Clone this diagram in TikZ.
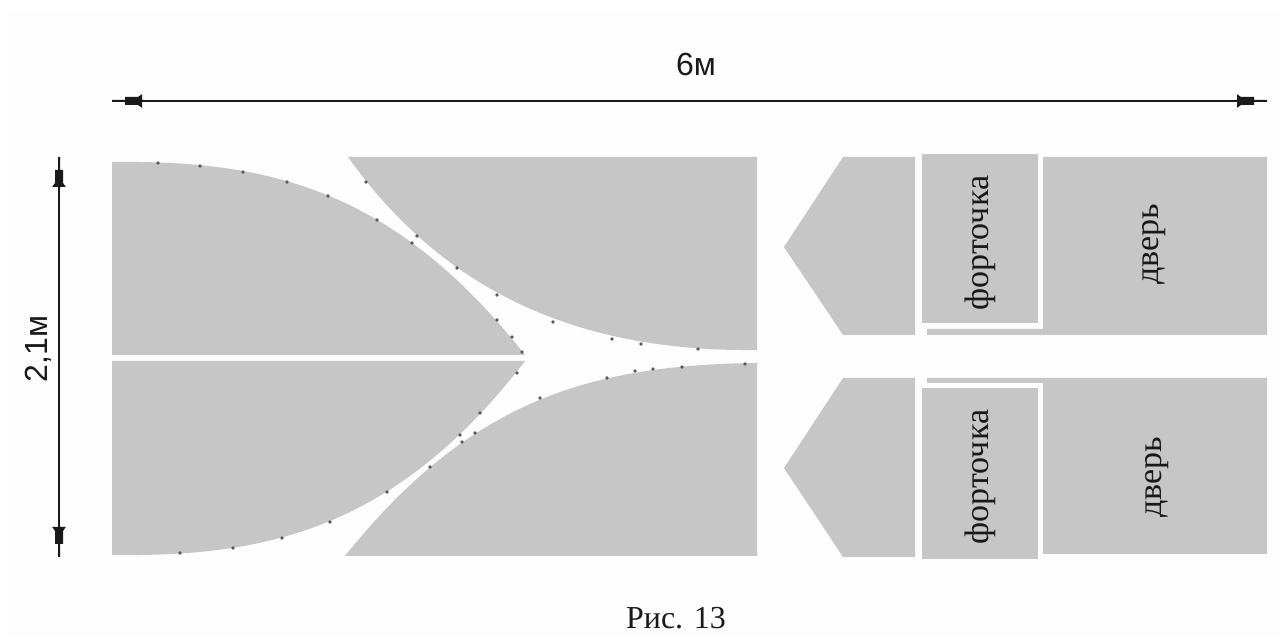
\documentclass[tikz,border=0pt]{standalone}
\usepackage{fontspec}
\setmainfont{Liberation Serif}
\newfontfamily\dimfont{Liberation Sans}
\definecolor{panel}{HTML}{C6C6C6}
\definecolor{paper}{HTML}{FDFDFD}
\definecolor{ink}{HTML}{1A1A1A}
\definecolor{speck}{HTML}{5A5A5A}
\tikzset{
  panelshape/.style={fill=panel,draw=none},
  dimline/.style={draw=ink,line width=1.4pt},
  serif label/.style={font=\fontsize{17}{19}\selectfont,inner sep=0pt,text=black!90},
  dim label/.style={font=\dimfont\fontsize{16}{18}\selectfont,inner sep=0pt,text=black!90},
  dimhead/.pic={
    \fill[ink] (0,-1) -- (13,-1) -- (13,-4) -- (26,-4) -- (30,-6.8) -- (30,-1) -- (32,-1) -- (32,1) -- (30,1) -- (30,6.8) -- (26,4) -- (13,4) -- (13,1) -- (0,1) -- cycle;
  },
  speckdot/.pic={\fill[speck] (0,0) circle (1.8);}
}
\begin{document}
\begin{tikzpicture}[x=0.5pt,y=-0.5pt]
\useasboundingbox (0,0) rectangle (1280,635);
\fill[white] (0,0) rectangle (1280,635);
\fill[paper] (7,12) rectangle (1280,635);
% left group
\fill[panelshape] (112,162) .. controls (270,160) and (395,190) .. (525,355) -- (112,355) -- cycle;
\fill[panelshape] (525,361) .. controls (395,530) and (265,557) .. (112,555) -- (112,361) -- cycle;
\fill[panelshape] (757,350) .. controls (590,352) and (450,300) .. (348,157) -- (757,157) -- cycle;
\fill[panelshape] (757,363) .. controls (590,365) and (470,400) .. (345,556) -- (757,556) -- cycle;
% pentagons
\fill[panelshape] (843,157) -- (915,157) -- (915,335) -- (843,335) -- (784,247) -- cycle;
\fill[panelshape] (843,378) -- (915,378) -- (915,557) -- (843,557) -- (784,468) -- cycle;
% doors
\fill[panelshape] (1043,157) -- (1267,157) -- (1267,335) -- (927,335) -- (927,329) -- (1043,329) -- cycle;
\fill[panelshape] (927,378) -- (1267,378) -- (1267,554) -- (1043,554) -- (1043,383) -- (927,383) -- cycle;
% small windows
\fill[panelshape] (922,154) rectangle (1038,323);
\fill[panelshape] (922,388) rectangle (1038,559);
% specks along the curves
\foreach \p in {(158,163),(200,166),(243,172),(287,182),(328,196),(377,220),(366,182),(412,243),(417,236),(457,268),(497,295),(553,322),(612,339),(641,344),(698,349),(497,320),(512,337),(522,352),(517,373),(480,413),(460,435),(387,492),(330,522),(282,538),(233,548),(180,553),(430,467),(462,442),(475,433),(540,398),(607,378),(635,371),(653,369),(682,367),(745,364)}
  \pic at \p {speckdot};
% labels
\node[serif label,rotate=90] (f1) at (980,243) {форточка};
\node[serif label,rotate=90] (f2) at (980,477) {форточка};
\node[serif label,rotate=90] (d1) at (1154,244) {дверь};
\node[serif label,rotate=90] (d2) at (1157,477) {дверь};
\node[dim label] (w) at (696,64) {6м};
\node[dim label,rotate=90] (h) at (38,349) {2,1м};
\node[serif label,font=\fontsize{16}{18}\selectfont] (cap) at (676,618) {Рис. 13};
% dimensions
\coordinate (wl) at (112,101);
\coordinate (wr) at (1267,101);
\coordinate (ht) at (59,157);
\coordinate (hb) at (59,557);
\path[dimline] (wl) -- (wr);
\path[dimline] (ht) -- (hb);
\pic at (wl) {dimhead};
\pic[rotate=180] at (wr) {dimhead};
\pic[rotate=-90] at (ht) {dimhead};
\pic[rotate=90] at (hb) {dimhead};
\end{tikzpicture}
\end{document}
